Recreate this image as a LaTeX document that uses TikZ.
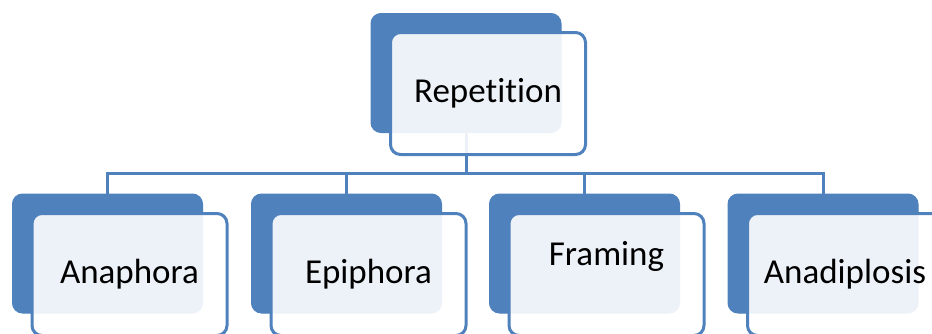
\documentclass[tikz,border=0pt]{standalone}
\usepackage{fontspec}
\setmainfont[Ligatures={NoCommon}]{Carlito}
\definecolor{accblue}{HTML}{4F81BD}
\tikzset{
  backbox/.style={draw=accblue, fill=accblue, line width=1pt, rounded corners=10pt,
    minimum width=190pt, minimum height=119pt, inner sep=0pt},
  frontbox/.style={draw=accblue, line width=3pt, fill=white, fill opacity=0.9,
    rounded corners=10pt, minimum width=195pt, minimum height=122pt, inner sep=0pt},
  lbl/.style={anchor=base, font=\fontsize{35}{42}\selectfont, text=black, inner sep=0pt},
  conn/.style={draw=accblue, line width=3pt}
}
\begin{document}
\begin{tikzpicture}[x=1pt, y=-1pt]
    \useasboundingbox (0,0) rectangle (932,333);
    \clip (0,0) rectangle (932,333);

    % Back boxes
    \node[backbox] (repB) at (466,73) {};
    \node[backbox] (anaB) at (107.5,253.5) {};
    \node[backbox] (epiB) at (346.5,253.5) {};
    \node[backbox] (fraB) at (584.5,253.5) {};
    \node[backbox] (adiB) at (823,253.5) {};

    % Connectors
    \foreach \n in {ana,epi,fra,adi}
        \draw[conn] (repB.south) -- ++(0,40) -| (\n B.north);

    % Front boxes
    \node[frontbox] (repF) at ([shift={(22,20.5)}]repB.center) {};
    \node[frontbox] (anaF) at ([shift={(22,21)}]anaB.center) {};
    \node[frontbox] (epiF) at ([shift={(22,21)}]epiB.center) {};
    \node[frontbox] (fraF) at ([shift={(22,21)}]fraB.center) {};
    \node[frontbox] (adiF) at ([shift={(22,21)}]adiB.center) {};

    % Labels
    \node[lbl] (repT) at ([yshift=-9pt]repF.center) {Repetition};
    \node[lbl] (anaT) at ([yshift=-9pt]anaF.center) {Anaphora};
    \node[lbl] (epiT) at ([yshift=-9pt]epiF.center) {Epiphora};
    \node[lbl] (fraT) at ([yshift=9.5pt]fraF.center) {Framing};
    \node[lbl] (adiT) at ([yshift=-9pt]adiF.center) {Anadiplosis};
\end{tikzpicture}
\end{document}
